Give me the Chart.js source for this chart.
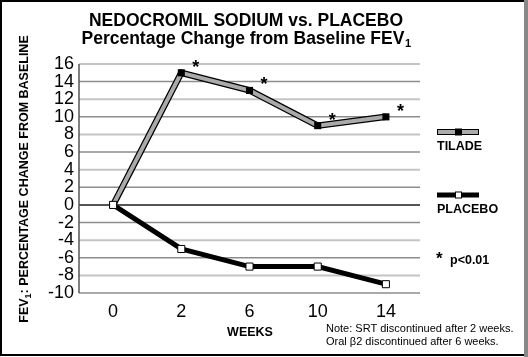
<!DOCTYPE html>
<html><head><meta charset="utf-8">
<script src="https://cdn.jsdelivr.net/npm/chart.js@4/dist/chart.umd.min.js"></script>
<style>html,body{margin:0;padding:0;background:#fff}#wrap{width:528px;height:357px;position:relative}</style>
</head><body><div id="wrap"><canvas id="c" width="528" height="357"></canvas></div>
<script>
const weeks = ['0', '2', '6', '10', '14'];
const tilade = [0, 15, 13, 9, 10];
const placebo = [0, -5, -7, -7, -9];
const significant = [false, true, true, true, true];
const yTicksMin = -10, yTicksMax = 16, yStep = 2;

const FONT = '"Liberation Sans", Arial, Helvetica, sans-serif';

const decor = {
  id: 'decor',
  beforeDatasetsDraw(chart) {
    const ctx = chart.ctx;
    const ys = chart.scales.y, area = chart.chartArea;
    ctx.save();
    ys.ticks.forEach((t) => {
      const y = ys.getPixelForValue(t.value);
      if (t.value === 0) { ctx.strokeStyle = '#555'; ctx.lineWidth = 2; }
      else if (((yTicksMax - t.value) / yStep) % 2 === 0) { ctx.strokeStyle = '#c4c4c4'; ctx.lineWidth = 2; }
      else { ctx.strokeStyle = '#8c8c8c'; ctx.lineWidth = 1.5; }
      ctx.beginPath(); ctx.moveTo(area.left, y); ctx.lineTo(area.right, y); ctx.stroke();
    });
    ctx.strokeStyle = '#555'; ctx.lineWidth = 1.5;
    ctx.beginPath(); ctx.moveTo(area.left, ys.getPixelForValue(yTicksMax)); ctx.lineTo(area.left, ys.getPixelForValue(yTicksMin)); ctx.stroke();
    ctx.restore();
  },
  afterDatasetsDraw(chart) {
    const ctx = chart.ctx;
    const xs = chart.scales.x, ys = chart.scales.y;
    ctx.save();
    ctx.fillStyle = '#000';
    ctx.font = 'bold 18px ' + FONT;
    ctx.textAlign = 'left'; ctx.textBaseline = 'middle';
    tilade.forEach((v, i) => {
      if (!significant[i]) return;
      ctx.fillText('*', xs.getPixelForValue(i) + 11, ys.getPixelForValue(v) - 5);
    });
    ctx.restore();
  },
  afterDraw(chart) {
    const ctx = chart.ctx;
    ctx.save();
    ctx.fillStyle = '#000';
    // title
    ctx.textBaseline = 'middle';
    ctx.textAlign = 'center';
    ctx.font = 'bold 17.5px ' + FONT;
    ctx.fillText('NEDOCROMIL SODIUM vs. PLACEBO', 246, 21);
    const t2 = 'Percentage Change from Baseline FEV';
    const w2 = ctx.measureText(t2).width;
    ctx.font = 'bold 11px ' + FONT;
    const ws = ctx.measureText('1').width;
    const startX = 246 - (w2 + ws) / 2;
    ctx.textAlign = 'left';
    ctx.font = 'bold 17.5px ' + FONT;
    ctx.fillText(t2, startX, 39);
    ctx.font = 'bold 11px ' + FONT;
    ctx.fillText('1', startX + w2 + 0.5, 44);

    // y-axis title rotated
    ctx.save();
    ctx.translate(25, 179);
    ctx.rotate(-Math.PI / 2);
    ctx.font = 'bold 12.5px ' + FONT;
    const a = 'FEV', b = ': PERCENTAGE CHANGE FROM BASELINE';
    const wa = ctx.measureText(a).width, wb = ctx.measureText(b).width;
    ctx.font = 'bold 9px ' + FONT;
    const w1 = ctx.measureText('1').width;
    const total = wa + w1 + wb;
    let x0 = -total / 2;
    ctx.textAlign = 'left'; ctx.textBaseline = 'middle';
    ctx.font = 'bold 12.5px ' + FONT;
    ctx.fillText(a, x0, 0);
    ctx.font = 'bold 9px ' + FONT;
    ctx.fillText('1', x0 + wa, 4);
    ctx.font = 'bold 12.5px ' + FONT;
    ctx.fillText(b, x0 + wa + w1, 0);
    ctx.restore();

    // x-axis title
    ctx.textAlign = 'center';
    ctx.font = 'bold 12.5px ' + FONT;
    ctx.fillText('WEEKS', 250, 333);

    // note
    ctx.textAlign = 'left';
    ctx.font = '11px ' + FONT;
    ctx.fillText('Note: SRT discontinued after 2 weeks.', 326, 329);
    ctx.fillText('Oral \u03B22 discontinued after 6 weeks.', 326, 342);

    // legend
    const lx0 = 437, lx1 = 479;
    ctx.lineCap = 'butt';
    ctx.strokeStyle = '#000'; ctx.lineWidth = 6;
    ctx.beginPath(); ctx.moveTo(lx0, 132); ctx.lineTo(lx1, 132); ctx.stroke();
    ctx.strokeStyle = '#aaa'; ctx.lineWidth = 4;
    ctx.beginPath(); ctx.moveTo(lx0 + 1, 132); ctx.lineTo(lx1 - 1, 132); ctx.stroke();
    ctx.fillStyle = '#000'; ctx.fillRect(455, 128.5, 7, 7);
    ctx.strokeStyle = '#000'; ctx.lineWidth = 5;
    ctx.beginPath(); ctx.moveTo(lx0, 195); ctx.lineTo(lx1, 195); ctx.stroke();
    ctx.fillStyle = '#fff'; ctx.fillRect(455, 191.5, 7, 7);
    ctx.strokeStyle = '#000'; ctx.lineWidth = 1; ctx.strokeRect(455.5, 192, 6, 6);
    ctx.fillStyle = '#000';
    ctx.font = 'bold 12.5px ' + FONT;
    ctx.fillText('TILADE', 437, 147);
    ctx.fillText('PLACEBO', 437, 210);
    ctx.font = 'bold 17px ' + FONT;
    ctx.fillText('*', 436, 259);
    ctx.font = 'bold 12.5px ' + FONT;
    ctx.fillText('p<0.01', 450, 261);

    // frame
    ctx.strokeStyle = '#000'; ctx.lineWidth = 2;
    ctx.strokeRect(1, 1, 524, 354);
    ctx.fillStyle = '#888'; ctx.fillRect(524, 0, 4, 357);
    ctx.restore();
  }
};

new Chart(document.getElementById('c'), {
  type: 'line',
  data: {
    labels: weeks,
    datasets: [
      { label: 'PLACEBO', data: placebo, borderColor: '#000', borderWidth: 5,
        pointStyle: 'rect', pointRadius: 5, pointBackgroundColor: '#fff', pointBorderColor: '#000', pointBorderWidth: 1,
        tension: 0, order: 0 },
      { label: 'TILADE', data: tilade, borderColor: '#aaa', borderWidth: 4,
        pointStyle: 'rect', pointRadius: 5, pointBackgroundColor: '#000', pointBorderColor: '#000', pointBorderWidth: 0,
        tension: 0, order: 1 },
      { label: 'TILADE outline', data: tilade, borderColor: '#000', borderWidth: 6.5,
        pointRadius: 0, tension: 0, order: 2 }
    ]
  },
  options: {
    responsive: false, animation: false,
    layout: { padding: { left: 0, right: 108, top: 64, bottom: 0 } },
    plugins: { legend: { display: false }, title: { display: false }, tooltip: { enabled: false } },
    scales: {
      x: {
        offset: true,
        grid: { display: false, drawTicks: false },
        border: { display: false },
        ticks: { color: '#000', font: { family: FONT, size: 18 }, padding: 8 },
        afterFit(s) { s.height = 64; }
      },
      y: {
        min: yTicksMin, max: yTicksMax,
        ticks: { stepSize: yStep, autoSkip: false, color: '#000', font: { family: FONT, size: 18 }, padding: 5 },
        grid: { display: false, drawTicks: false },
        border: { display: false },
        afterFit(s) { s.width = 79; }
      }
    }
  },
  plugins: [decor]
});
</script></body></html>
